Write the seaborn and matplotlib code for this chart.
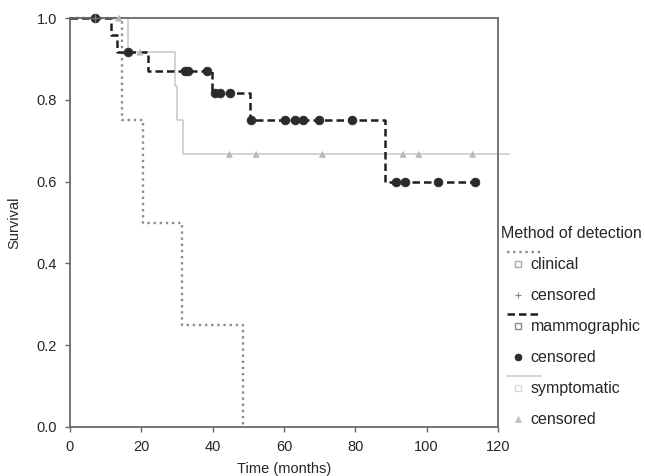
import numpy as np
import pandas as pd
import matplotlib
matplotlib.use('Agg')
import matplotlib.pyplot as plt
import seaborn as sns
from matplotlib.lines import Line2D
from matplotlib.legend_handler import HandlerBase

# Kaplan-Meier step curves (time in months, survival)
clin_t = [0, 14.5, 20.5, 31.3, 48.5]
clin_s = [1.0, 0.75, 0.50, 0.25, 0.0]
mamm_t = [0, 11.4, 13.3, 22.0, 39.7, 50.6, 88.3, 113.7]
mamm_s = [1.0, 0.958, 0.917, 0.871, 0.816, 0.75, 0.60, 0.60]
symp_t = [0, 16.3, 29.4, 29.9, 31.8, 123.0]
symp_s = [1.0, 0.917, 0.833, 0.75, 0.667, 0.667]

# censored observations
clin_cens_t = [7.0]
clin_cens_s = [1.0]
mamm_cens_t = [7.0, 16.4, 32.2, 33.0, 38.3, 40.7, 42.0, 44.9, 50.8, 60.3, 63.1,
               65.4, 69.9, 79.0, 91.3, 93.9, 103.3, 113.7]
mamm_cens_s = [1.0, 0.917, 0.871, 0.871, 0.871, 0.816, 0.816, 0.816, 0.75, 0.75, 0.75,
               0.75, 0.75, 0.75, 0.60, 0.60, 0.60, 0.60]
symp_cens_t = [13.7, 19.6, 44.7, 52.2, 70.8, 93.4, 97.8, 112.9]
symp_cens_s = [1.0, 0.917, 0.667, 0.667, 0.667, 0.667, 0.667, 0.667]

groups = ['clinical', 'mammographic', 'symptomatic']
line_col = {'clinical': '#8c8c8c', 'mammographic': '#1e1e1e', 'symptomatic': '#c8c8c8'}
line_ls = {'clinical': (0, (1, 1.6)), 'mammographic': (0, (3, 1.6)), 'symptomatic': '-'}
line_lw = {'clinical': 1.7, 'mammographic': 1.8, 'symptomatic': 1.1}

sns.set_style('ticks')
plt.rcParams['font.family'] = ['Liberation Sans', 'DejaVu Sans']

fig = plt.figure(figsize=(6.45, 4.76), dpi=100)
ax = fig.add_axes([0.1085, 0.103, 0.6635, 0.859])

curves = {'clinical': (clin_t, clin_s), 'mammographic': (mamm_t, mamm_s),
          'symptomatic': (symp_t, symp_s)}
for g in ['symptomatic', 'clinical', 'mammographic']:
    t, s = curves[g]
    sns.lineplot(x=t, y=s, ax=ax, drawstyle='steps-post', estimator=None, sort=False,
                 color=line_col[g], linestyle=line_ls[g], linewidth=line_lw[g],
                 clip_on=False, zorder=2)

sns.scatterplot(x=symp_cens_t, y=symp_cens_s, ax=ax, marker='^', s=26,
                color='#b8b8b8', edgecolor='none', zorder=3, clip_on=False)
sns.scatterplot(x=clin_cens_t, y=clin_cens_s, ax=ax, marker='+', s=40,
                color='#777777', linewidth=1.0, zorder=4, clip_on=False)
sns.scatterplot(x=mamm_cens_t, y=mamm_cens_s, ax=ax, marker='o', s=40,
                color='#2b2b2b', edgecolor='#2b2b2b', zorder=3, clip_on=False)

ax.set_xlim(0, 120)
ax.set_ylim(0, 1.0)
ax.set_xticks(np.arange(0, 121, 20))
ax.set_yticks(np.arange(0, 1.01, 0.2))
ax.set_yticklabels(['%.1f' % v for v in np.arange(0, 1.01, 0.2)])
ax.tick_params(axis='both', labelsize=10.5, length=3.5, width=1, color='#666666',
               direction='out')
ax.tick_params(axis='x', pad=6)
ax.tick_params(axis='y', pad=6)
for sp in ax.spines.values():
    sp.set_visible(True)
    sp.set_color('#6a6a6a')
    sp.set_linewidth(1.3)
ax.set_xlabel('Time (months)', fontsize=10.5, labelpad=6)
ax.set_ylabel('Survival', fontsize=10.5, labelpad=11)


class KMHandler(HandlerBase):
    """SPSS-like legend glyph: curve segment above a marker."""
    def __init__(self, color=None, ls='-', lw=1.0, **kw):
        super().__init__(**kw)
        self.color = color
        self.ls = ls
        self.lw = lw

    def create_artists(self, legend, orig_handle, xdescent, ydescent,
                       width, height, fontsize, trans):
        yc = height / 2 - ydescent
        x0 = -xdescent
        arts = []
        mk = Line2D([x0 + 0.70 * width], [yc], linestyle='none',
                    marker=orig_handle.get_marker(),
                    markersize=orig_handle.get_markersize(),
                    markerfacecolor=orig_handle.get_markerfacecolor(),
                    markeredgecolor=orig_handle.get_markeredgecolor(),
                    markeredgewidth=orig_handle.get_markeredgewidth())
        mk.set_transform(trans)
        arts.append(mk)
        if self.color is not None:
            ln = Line2D([x0 + 0.25 * width, x0 + 1.6 * width], [yc + 8.3, yc + 8.3],
                        color=self.color, linestyle=self.ls, linewidth=self.lw)
            ln.set_transform(trans)
            arts.append(ln)
        return arts


handles, labels, hmap = [], [], {}
cens_style = {'clinical': dict(marker='+', markersize=5, markeredgecolor='#888888',
                               markerfacecolor='#888888', markeredgewidth=0.8),
              'mammographic': dict(marker='o', markersize=5, markeredgecolor='#2b2b2b',
                                   markerfacecolor='#2b2b2b', markeredgewidth=0.5),
              'symptomatic': dict(marker='^', markersize=4.5, markeredgecolor='#c0c0c0',
                                  markerfacecolor='#c0c0c0', markeredgewidth=0.5)}
sq_edge = {'clinical': '#aaaaaa', 'mammographic': '#8a8a8a', 'symptomatic': '#d8d8d8'}
for g in groups:
    sq = Line2D([], [], linestyle='none', marker='s', markersize=4,
                markerfacecolor='white', markeredgecolor=sq_edge[g], markeredgewidth=1.0)
    handles.append(sq)
    labels.append(g)
    hmap[sq] = KMHandler(color=line_col[g], ls=line_ls[g], lw=line_lw[g])
    cm = Line2D([], [], linestyle='none', **cens_style[g])
    handles.append(cm)
    labels.append('censored')
    hmap[cm] = KMHandler()

leg = fig.legend(handles, labels, handler_map=hmap, loc='upper left',
                 bbox_to_anchor=(0.772, 0.531), frameon=False, fontsize=11.5,
                 title='Method of detection', title_fontsize=11.5, alignment='left',
                 handlelength=1.55, handletextpad=0.3, labelspacing=1.0,
                 borderpad=0.2, borderaxespad=0)

fig.savefig('out.png', dpi=100)
